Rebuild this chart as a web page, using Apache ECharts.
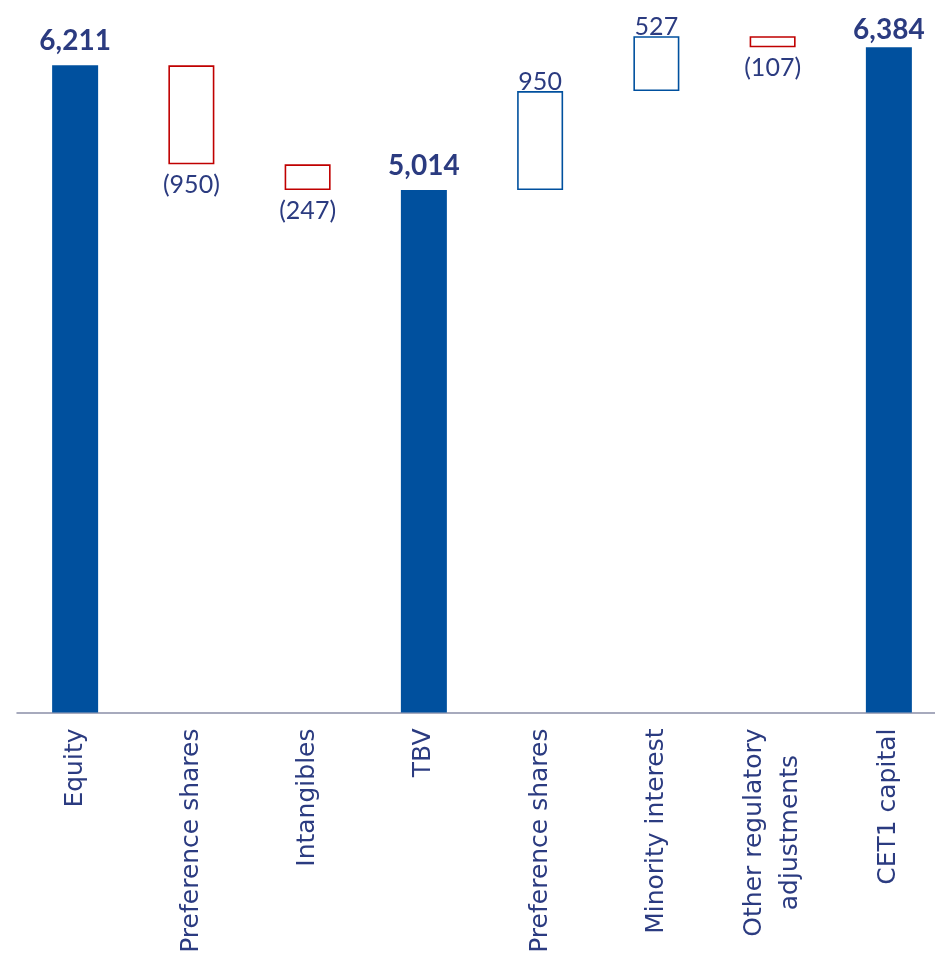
<!DOCTYPE html>
<html><head><meta charset="utf-8">
<style>html,body{margin:0;padding:0;background:#fff;overflow:hidden}#c{width:947px;height:962px}</style>
<script src="https://cdn.jsdelivr.net/npm/echarts@6/dist/echarts.min.js"></script>
</head><body><div id="c"></div>
<script>
const categories = ['Equity','Preference shares','Intangibles','TBV','Preference shares','Minority interest','Other regulatory\nadjustments','CET1 capital'];
const values = [6211, -950, -247, 5014, 950, 527, -107, 6384];
const kinds = ['total','delta','delta','total','delta','delta','delta','total'];

const NAVY = '#2b3b80';
const BLUE = '#00509e';
const RED = '#c00000';
const FONT = 'Lato, "Noto Sans", sans-serif';
const AXFONT = '"DejaVu Sans", sans-serif';

const base = [], height = [];
let run = 0;
values.forEach((v, i) => {
  if (kinds[i] === 'total') { base.push(0); height.push(v); run = v; }
  else if (v < 0) { run += v; base.push(run); height.push(-v); }
  else { base.push(run); height.push(v); run += v; }
});
const fmt = v => { const s = Math.abs(v).toLocaleString('en-US'); return v < 0 ? '(' + s + ')' : s; };

const visData = height.map((h, i) => {
  const v = values[i];
  if (kinds[i] === 'total') {
    return { value: h, itemStyle: { color: BLUE, borderWidth: 0 },
      label: { show: true, position: 'top', distance: i === 7 ? 3 : 10, fontSize: 28, fontWeight: 'bold', color: NAVY, fontFamily: FONT } };
  }
  const col = v < 0 ? RED : BLUE;
  return { value: h, itemStyle: { color: 'rgba(255,255,255,0)', borderColor: col, borderWidth: 1.6 },
    label: { show: true, position: v < 0 ? 'bottom' : 'top', distance: v < 0 ? 8 : -3, fontSize: 25, color: NAVY, fontFamily: FONT } };
});

const chart = echarts.init(document.getElementById('c'));
chart.setOption({
  animation: false,
  grid: { left: 17, right: 0, top: 4, height: 708.5 },
  xAxis: {
    type: 'category', data: categories,
    axisLine: { lineStyle: { color: '#8a8ea8', width: 1.5 } },
    axisTick: { show: false },
    axisLabel: {
      rotate: 90, interval: 0, margin: 16, fontSize: 25, color: NAVY, fontFamily: AXFONT, lineHeight: 36,
      formatter: s => s.split('\n').map(t => '{c|' + t + '}').join('\n'),
      rich: { c: { align: 'center', fontSize: 25, color: NAVY, fontFamily: AXFONT, lineHeight: 36 } }
    }
  },
  yAxis: { type: 'value', min: 0, max: 6800, show: false, splitLine: { show: false } },
  series: [
    { type: 'bar', stack: 'w', data: base, barWidth: 46, itemStyle: { color: 'rgba(0,0,0,0)' }, silent: true },
    { type: 'bar', stack: 'w', data: visData, barWidth: 46,
      label: { formatter: p => fmt(values[p.dataIndex]) } }
  ]
});
</script></body></html>
